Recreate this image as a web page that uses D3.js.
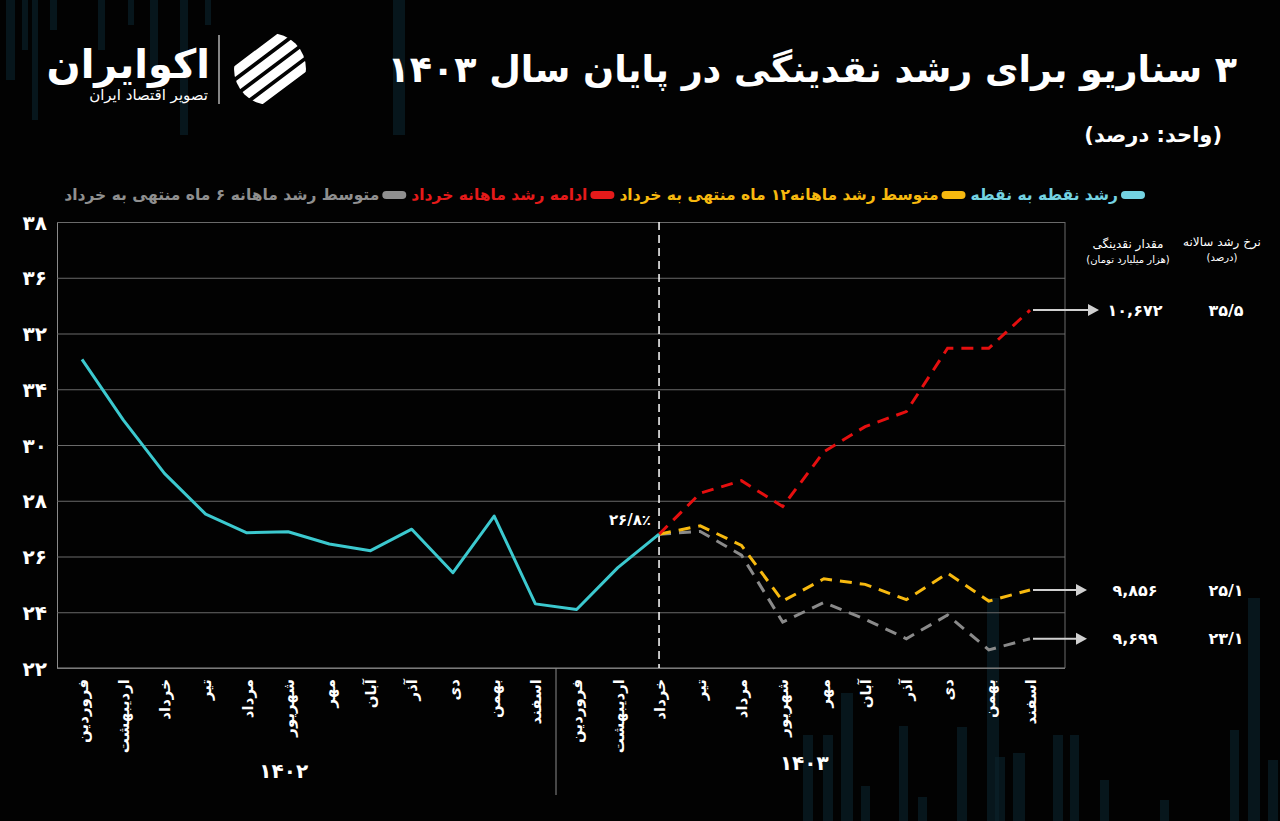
<!DOCTYPE html>
<html><head><meta charset="utf-8">
<script src="https://cdn.jsdelivr.net/npm/d3@7"></script>
<style>
html,body{margin:0;padding:0;background:#020202;}
svg{display:block;}
text{font-family:"DejaVu Sans",sans-serif;}
</style></head>
<body><svg id="c" width="1280" height="821"></svg>
<script>
// ---------- DATA ----------
const monthNames = ["فروردین","اردیبهشت","خرداد","تیر","مرداد","شهریور","مهر","آبان","آذر","دی","بهمن","اسفند"];
const years = ["۱۴۰۲","۱۴۰۳"];
const yTickValues = [38,36,34,32,30,28,26,24,22];
const yTickLabels = ["۳۸","۳۶","۳۲","۳۴","۳۰","۲۸","۲۶","۲۴","۲۲"];
// point-to-point growth: Farvardin 1402 .. Khordad 1403
const pointToPoint = [33.07,30.9,28.98,27.52,26.85,26.89,26.45,26.21,26.98,25.42,27.45,24.3,24.1,25.6,26.8];
// scenarios: Khordad 1403 .. Esfand 1403
const scenarioKhordad = [26.8,28.27,28.72,27.79,29.76,30.66,31.2,33.47,33.47,34.84];
const scenario12m = [26.8,27.1,26.4,24.4,25.2,25.0,24.45,25.4,24.4,24.8];
const scenario6m = [26.8,26.9,26.05,23.65,24.35,23.75,23.05,23.9,22.65,23.05];
const lastKnownLabel = "۲۶/۸٪";
const endLiquidity = [10672,9856,9699];
const endGrowth = [35.5,25.1,23.1];
const legendLabels = ["رشد نقطه به نقطه","متوسط رشد ماهانه۱۲ ماه منتهی به خرداد","ادامه رشد ماهانه خرداد","متوسط رشد ماهانه ۶ ماه منتهی به خرداد"];
const seriesColors = ["#3cc9cf","#f7b90f","#e50f0f","#8a8a8a"];
const legendTextColors = ["#74d3e2","#f7b90f","#e51a1a","#8f8f8f"];
const title = "۳ سناریو برای رشد نقدینگی در پایان سال ۱۴۰۳";
const subtitle = "(واحد: درصد)";
const headLiquidity = ["مقدار نقدینگی","(هزار میلیارد تومان)"];
const headGrowth = ["نرخ رشد سالانه","(درصد)"];
// decorative background columns [x, width, top, bottom]
const decoBars = [[6,9,0,80],[22,6,0,50],[32,6,0,120],[50,7,0,30],[98,7,0,50],[128,6,0,25],[150,8,0,70],[180,8,0,135],[205,6,0,25],[393,12,0,135],
  [803,10,735,821],[823,10,735,821],[841,12,693,821],[861,9,786,821],[899,9,726,821],[918,9,797,821],[957,10,727,821],[987,12,598,821],[995,10,757,821],[1013,12,753,821],[1053,10,735,821],[1070,9,735,821],[1100,9,780,821],[1160,9,800,821],[1230,9,730,821],[1248,12,598,821],[1268,10,760,821]];

const fa = s => String(s).replace(/\d/g, d => "۰۱۲۳۴۵۶۷۸۹"[d]);

// ---------- LAYOUT ----------
const svg = d3.select("#c");
const L = 57, R = 1065, T = 222, B = 668;

svg.append("rect").attr("width",1280).attr("height",821).attr("fill","#020202");
svg.append("g").selectAll("rect").data(decoBars).join("rect")
  .attr("x",d=>d[0]).attr("width",d=>d[1]).attr("y",d=>d[2]).attr("height",d=>d[3]-d[2])
  .attr("fill","#0a222b").attr("opacity",0.65);

const keys = d3.range(24);
const x = d3.scalePoint().domain(keys).range([82,1030]);
const y = d3.scaleLinear().domain([22,38]).range([B,T]);

// grid + y axis
const yAxis = d3.axisLeft(y).tickValues(yTickValues)
  .tickFormat((d,i)=>yTickLabels[i]).tickSizeInner(-(R-L)).tickSizeOuter(0).tickPadding(10);
const gy = svg.append("g").attr("transform",`translate(${L},0)`).call(yAxis);
gy.select(".domain").attr("stroke","#8a8a8a");
gy.selectAll(".tick line").attr("stroke","#6a6a6a").attr("stroke-width",1);
gy.selectAll(".tick text").attr("fill","#fff").attr("font-size",20).attr("font-weight","bold").attr("dy","0.35em");
// right border
svg.append("line").attr("x1",R).attr("x2",R).attr("y1",T).attr("y2",B).attr("stroke","#6a6a6a");

// x axis
const xAxis = d3.axisBottom(x).tickSize(0).tickFormat(i=>monthNames[i%12]);
const gx = svg.append("g").attr("transform",`translate(0,${B})`).call(xAxis);
gx.select(".domain").attr("stroke","#8a8a8a").attr("d",`M${L},0H${R}`);
gx.selectAll(".tick text").attr("fill","#fff").attr("font-size",15).attr("font-weight","bold")
  .attr("text-anchor","end").attr("transform","translate(0,11) rotate(-90)")
  .attr("x",0).attr("y",0).attr("dy","0.35em");

// year separator + labels
const sepX = (x(11)+x(12))/2;
svg.append("line").attr("x1",sepX).attr("x2",sepX).attr("y1",B).attr("y2",795).attr("stroke","#8a8a8a");
svg.append("text").attr("x",(x(0)+x(11))/2-25).attr("y",778).attr("text-anchor","middle").attr("fill","#fff")
  .attr("font-size",20).attr("font-weight","bold").text(years[0]);
svg.append("text").attr("x",(x(12)+x(23))/2+1).attr("y",770).attr("text-anchor","middle").attr("fill","#fff")
  .attr("font-size",20).attr("font-weight","bold").text(years[1]);

// vertical dashed line at Khordad 1403
svg.append("line").attr("x1",x(14)).attr("x2",x(14)).attr("y1",T).attr("y2",B)
  .attr("stroke","#fff").attr("stroke-width",1.5).attr("stroke-dasharray","8,5");

// lines
const line = d3.line().x(d=>x(d.i)).y(d=>y(d.v));
const seriesPts = (arr,start)=>arr.map((v,k)=>({i:start+k,v}));
svg.append("path").datum(seriesPts(scenario6m,14)).attr("d",line).attr("fill","none")
  .attr("stroke",seriesColors[3]).attr("stroke-width",3).attr("stroke-dasharray","12,8");
svg.append("path").datum(seriesPts(scenario12m,14)).attr("d",line).attr("fill","none")
  .attr("stroke",seriesColors[1]).attr("stroke-width",3).attr("stroke-dasharray","12,8");
svg.append("path").datum(seriesPts(scenarioKhordad,14)).attr("d",line).attr("fill","none")
  .attr("stroke",seriesColors[2]).attr("stroke-width",3).attr("stroke-dasharray","12,8");
svg.append("path").datum(seriesPts(pointToPoint,0)).attr("d",line).attr("fill","none")
  .attr("stroke",seriesColors[0]).attr("stroke-width",3).attr("stroke-linejoin","round");

// last known label
svg.append("text").attr("x",x(14)-8).attr("y",y(26.8)-9).attr("text-anchor","end").attr("fill","#fff")
  .attr("font-size",15).attr("font-weight","bold").text(lastKnownLabel);

// arrows + end annotations
const ends = [scenarioKhordad, scenario12m, scenario6m].map(a=>a[a.length-1]);
const arrowLen = [66,54,54];
ends.forEach((v,k)=>{
  const yy = y(v);
  const x0 = x(23)+3, x1 = x0+arrowLen[k];
  svg.append("line").attr("x1",x0).attr("x2",x1-10).attr("y1",yy).attr("y2",yy).attr("stroke","#d0d0d0").attr("stroke-width",2);
  svg.append("path").attr("d",`M${x1},${yy}L${x1-11},${yy-6}L${x1-11},${yy+6}Z`).attr("fill","#d0d0d0");
  svg.append("text").attr("x",1135).attr("y",yy).attr("dy","0.35em").attr("text-anchor","middle")
    .attr("fill","#fff").attr("font-size",16).attr("font-weight","bold").text(fa(d3.format(",")(endLiquidity[k])));
  svg.append("text").attr("x",1226).attr("y",yy).attr("dy","0.35em").attr("text-anchor","middle")
    .attr("fill","#fff").attr("font-size",16).attr("font-weight","bold").text(fa(String(endGrowth[k]).replace(".","/")));
});
svg.append("text").attr("x",1128).attr("y",248).attr("text-anchor","middle").attr("fill","#fff").attr("font-size",12).text(headLiquidity[0]);
svg.append("text").attr("x",1128).attr("y",263).attr("text-anchor","middle").attr("fill","#fff").attr("font-size",10).text(headLiquidity[1]);
svg.append("text").attr("x",1222).attr("y",246).attr("text-anchor","middle").attr("fill","#fff").attr("font-size",12).text(headGrowth[0]);
svg.append("text").attr("x",1222).attr("y",261).attr("text-anchor","middle").attr("fill","#fff").attr("font-size",10).text(headGrowth[1]);

// legend (right to left)
let lx = 1145;
legendLabels.forEach((lab,k)=>{
  svg.append("rect").attr("x",lx-24).attr("y",191).attr("width",24).attr("height",8).attr("rx",4).attr("fill",legendTextColors[k]);
  const t = svg.append("text").attr("x",lx-27).attr("y",195).attr("dy","0.35em")
    .style("direction","rtl").attr("text-anchor","start")
    .attr("fill",legendTextColors[k]).attr("font-size",15.5).attr("font-weight","bold").text(lab);
  lx = lx - 27 - t.node().getComputedTextLength() - 5;
});

// title
const tt = svg.append("text").attr("x",1237).attr("y",82).style("direction","rtl").attr("text-anchor","start").attr("fill","#fff")
  .attr("font-size",40).attr("font-weight","bold").text(title);
const tw = tt.node().getComputedTextLength();
if (tw > 850) tt.attr("font-size", 40*850/tw);
svg.append("text").attr("x",1222).attr("y",142).style("direction","rtl").attr("text-anchor","start").attr("fill","#fff")
  .attr("font-size",21).attr("font-weight","bold").text(subtitle);

// logo
const lg = svg.append("g");
lg.append("text").attr("x",210).attr("y",78).attr("text-anchor","end").attr("fill","#fff")
  .attr("font-size",40).attr("font-weight","bold").text("اکوایران");
lg.append("text").attr("x",208).attr("y",100).attr("text-anchor","end").attr("fill","#fff")
  .attr("font-size",15).text("تصویر اقتصاد ایران");
lg.append("line").attr("x1",219).attr("x2",219).attr("y1",35).attr("y2",104).attr("stroke","#ddd").attr("stroke-width",1.2);
const defs = svg.append("defs");
defs.append("clipPath").attr("id","lc").append("circle").attr("cx",270).attr("cy",69).attr("r",36);
const ic = lg.append("g").attr("clip-path","url(#lc)");
[-24,-8,8,24].forEach(o=>{
  ic.append("line").attr("x1",230).attr("y1",69+o+30).attr("x2",310).attr("y2",69+o-30)
    .attr("stroke","#fff").attr("stroke-width",9).attr("stroke-linecap","round");
});
</script></body></html>
